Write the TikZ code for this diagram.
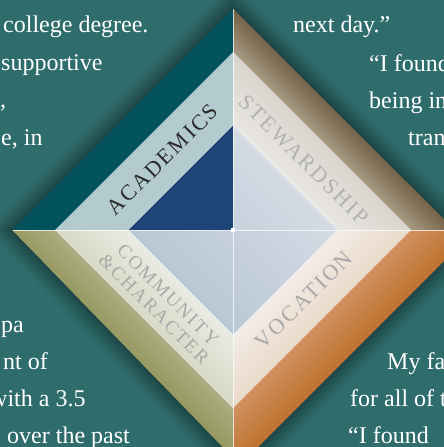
\documentclass[tikz,border=0pt]{standalone}
\usepackage{fontspec}
\setmainfont{Liberation Serif}
\newfontfamily\lblfont[LetterSpace=10]{Liberation Serif}
\definecolor{bg}{HTML}{2F6D6C}
\definecolor{obTL}{HTML}{02525B}
\definecolor{obTRo}{HTML}{76634A}
\definecolor{obTRi}{HTML}{A69A82}
\definecolor{obBRo}{HTML}{C07432}
\definecolor{obBRi}{HTML}{CF9160}
\definecolor{obBLo}{HTML}{989A64}
\definecolor{obBLi}{HTML}{ABAC80}
\definecolor{mbTL}{HTML}{B3CBCF}
\definecolor{mbTRo}{HTML}{D9D5CE}
\definecolor{mbTRi}{HTML}{E9E7E3}
\definecolor{mbBRo}{HTML}{EADACB}
\definecolor{mbBRi}{HTML}{F3ECE6}
\definecolor{mbBLo}{HTML}{D8D9C6}
\definecolor{mbBLi}{HTML}{EAEAE3}
\definecolor{inL}{HTML}{D9DFE7}
\definecolor{inD}{HTML}{B4C3D2}
\definecolor{inBlue}{HTML}{1E4577}
\definecolor{acad}{HTML}{2A2A2A}
\definecolor{lgray}{HTML}{A9A9A9}
% quadrant triangles graded from radius #3 (colour #5) to radius #4 (colour #6)
% #1 sx, #2 sy
\newcommand\gradq[6]{%
  \foreach \gbI in {0,...,24}{%
    \pgfmathsetmacro\gbR{#3-(#3-#4)*\gbI/25}%
    \pgfmathtruncatemacro\gbP{100-100*\gbI/24}%
    \fill[#5!\gbP!#6] (#1*\gbR,0) -- (0,#2*\gbR) -- (0,0) -- cycle;
  }}
\begin{document}
\begin{tikzpicture}[x=1pt,y=1pt,
  bodytext/.style={text=white, font=\fontsize{24}{24}\selectfont, anchor=base west, inner sep=0pt},
  lbl/.style={font=\lblfont\fontsize{22}{22}\selectfont, inner sep=0pt},
  lblsmall/.style={font=\lblfont\fontsize{19}{20}\selectfont, inner sep=0pt, align=center},
  sepline/.style={draw=white, draw opacity=0.75, line width=0.9pt}]
\useasboundingbox (0,0) rectangle (444,-447);
\clip (0,0) rectangle (444,-447);
\fill[bg] (0,0) rectangle (444,-447);
% background text
\node[bodytext] (tl1) at (3,-32) {college degree.};
\node[bodytext] (tl2) at (1,-70) {supportive};
\node[bodytext] (tl3) at (0,-107) {,};
\node[bodytext] (tl4) at (1,-145) {e, in};
\node[bodytext] (tr1) at (293,-32) {next day.”};
\node[bodytext] (tr2) at (369,-71) {“I found};
\node[bodytext] (tr3) at (369,-108) {being in};
\node[bodytext] (tr4) at (408,-145) {tran};
\node[bodytext] (bl1) at (1,-332) {pa};
\node[bodytext] (bl2) at (3,-369) {nt of};
\node[bodytext] (bl3) at (-10,-406) {with a 3.5};
\node[bodytext] (bl4) at (7,-443) {over the past};
\node[bodytext] (br1) at (387,-369) {My fa};
\node[bodytext] (br2) at (350,-406) {for all of t};
\node[bodytext] (br3) at (348,-443) {“I found};
\begin{scope}[shift={(233,-230)}]
  \coordinate (T) at (0,221);
  \coordinate (R) at (232,-10);
  \coordinate (B) at (7,-235);
  \coordinate (L) at (-220.5,0);
  % soft shadow
  \foreach \d in {36,28,22,16,10,6,2}
    \draw[black, opacity=0.06, line width=\d pt, line join=miter] (T) -- (R) -- (B) -- (L) -- cycle;
  \begin{scope}
    \clip (T) -- (R) -- (B) -- (L) -- cycle;
    % outer bands
    \fill[obTL] (-300,0) -- (0,300) -- (0,0) -- cycle;
    \fill[obTRo] (300,0) -- (0,300) -- (0,0) -- cycle;
    \fill[obBRo] (300,0) -- (0,-300) -- (0,0) -- cycle;
    \fill[obBLo] (-300,0) -- (0,-300) -- (0,0) -- cycle;
    \gradq{1}{1}{221}{178}{obTRo}{obTRi}
    \gradq{1}{-1}{238}{178}{obBRo}{obBRi}
    \gradq{-1}{-1}{225}{178}{obBLo}{obBLi}
    % middle bands
    \fill[mbTL] (-178,0) -- (0,178) -- (0,0) -- cycle;
    \gradq{1}{1}{178}{105}{mbTRo}{mbTRi}
    \gradq{1}{-1}{178}{105}{mbBRo}{mbBRi}
    \gradq{-1}{-1}{178}{105}{mbBLo}{mbBLi}
    % inner diamond
    \shade[top color=inL, bottom color=inD, shading angle=-45]
      (-105,0) -- (0,105) -- (105,0) -- (0,-105) -- cycle;
    \fill[inBlue] (0,0) -- (-105,0) -- (0,105) -- cycle;
    \draw[draw=white, draw opacity=0.7, line width=0.6pt]
      (-105,0) -- (0,105) -- (105,0) -- (0,-105) -- cycle;
    % cross lines
    \draw[sepline] (0,300) -- (0,-300);
    \draw[sepline] (-300,0) -- (300,0);
  \end{scope}
  \fill[white] (0,0) circle (2.4);
  % labels
  \node[lbl, text=acad, rotate=45] (academics) at (-70.5,70.5) {ACADEMICS};
  \node[lbl, text=lgray!90!white, rotate=-45] (stewardship) at (70.5,70.5) {STEWARDSHIP};
  \node[lbl, text=lgray, rotate=45] (vocation) at (71,-70) {VOCATION};
  \node[lblsmall, text=lgray, rotate=-45] (community) at (-72,-72) {COMMUNITY\\\&CHARACTER};
\end{scope}
\end{tikzpicture}
\end{document}
